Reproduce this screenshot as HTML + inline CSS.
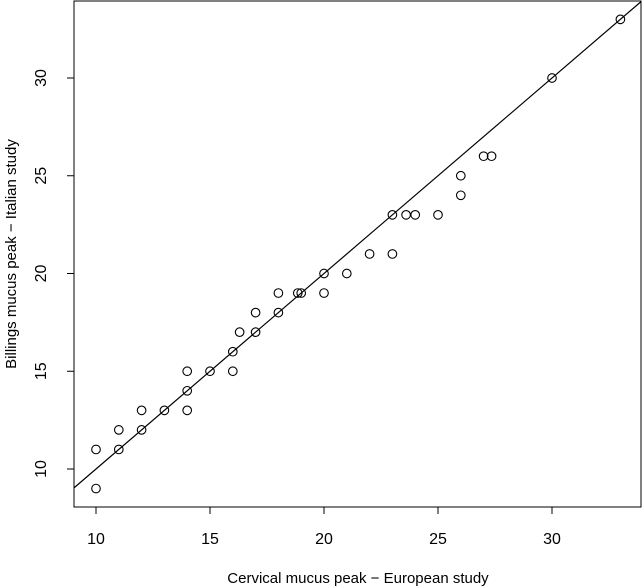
<!DOCTYPE html>
<html><head><meta charset="utf-8"><style>body{margin:0;background:#fff}svg{display:block;font-family:"Liberation Sans",Arial,sans-serif}</style></head>
<body>
<svg width="642" height="586" viewBox="0 0 642 586">
<rect x="74" y="1" width="567" height="506" fill="none" stroke="#000" stroke-width="1"/>
<g id="ax"></g>
<line id="refline" stroke="#000" stroke-width="1.2"/>
<g id="pts"></g>
<text x="358" y="583" font-size="15" text-anchor="middle">Cervical mucus peak − European study</text>
<text transform="translate(16,254) rotate(-90)" font-size="15" text-anchor="middle">Billings mucus peak − Italian study</text>
</svg>
<script>
const xTicks=[10,15,20,25,30];
const yTicks=[10,15,20,25,30];
const xVals=[10,10,11,11,12,12,13,14,14,14,15,16,16,16.3,17,17,18,18,18.85,19,20,20,21,22,23,23,23.6,24,25,26,26,27,27.35,30,33];
const yVals=[11,9,12,11,13,12,13,15,14,13,15,16,15,17,18,17,19,18,19,19,20,19,20,21,23,21,23,23,23,25,24,26,26,30,33];
const X=v=>96+(v-10)*22.8, Y=v=>469-(v-10)*19.55;
const NS="http://www.w3.org/2000/svg";
const ax=document.getElementById('ax');
function mk(t,a,p){const e=document.createElementNS(NS,t);for(const k in a)e.setAttribute(k,a[k]);p.appendChild(e);return e;}
xTicks.forEach(t=>{
  const l=mk('line',{x1:X(t),x2:X(t),y1:507,y2:514,stroke:'#000'},ax);
  
  
  const s=mk('text',{x:X(t),y:544,'font-size':16,'text-anchor':'middle'},ax);s.textContent=t;
  
  
});
yTicks.forEach(t=>{
  const l=mk('line',{x1:67,x2:74,y1:Y(t),y2:Y(t),stroke:'#000'},ax);
  
  
  const s=mk('text',{transform:`translate(46,${Y(t)}) rotate(-90)`,'font-size':16,'text-anchor':'middle'},ax);s.textContent=t;
  
  
});
const x0=9.035,x1=33.9;
const rl=document.getElementById('refline');
rl.setAttribute('x1',X(x0));rl.setAttribute('y1',Y(x0));rl.setAttribute('x2',X(x1));rl.setAttribute('y2',Y(x1));
const g=document.getElementById('pts');
xVals.forEach((v,i)=>{
  const c=mk('circle',{cx:X(v),cy:Y(yVals[i]),r:4.3,fill:'none',stroke:'#000','stroke-width':1.1},g);
  
  
});
</script>
</body></html>
